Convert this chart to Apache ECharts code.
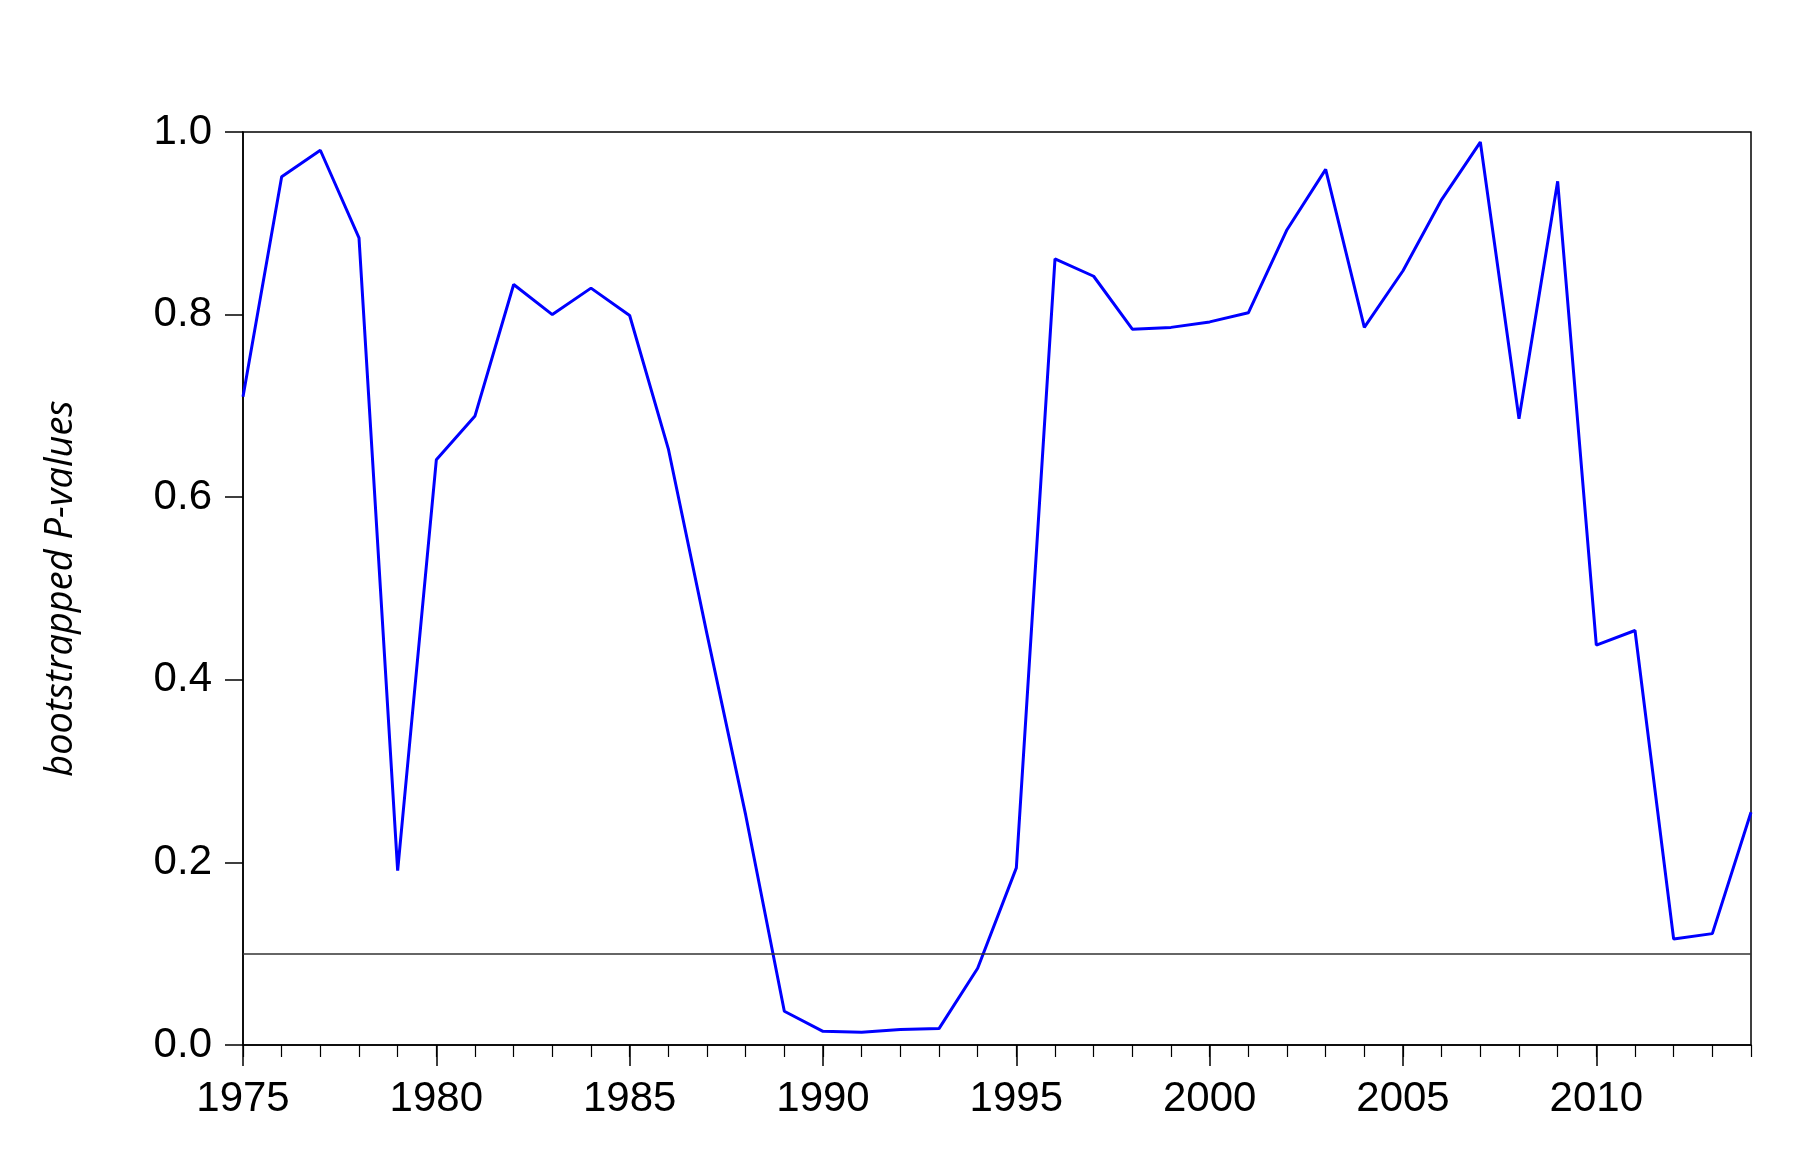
<!DOCTYPE html>
<html>
<head>
<meta charset="utf-8">
<script src="https://cdn.jsdelivr.net/npm/echarts@6/dist/echarts.min.js"></script>
<style>
  html, body { margin: 0; padding: 0; background: #fff; }
</style>
</head>
<body>
<div id="main" style="width:1817px; height:1158px"></div>
<script>
// years on the x axis
var years = [];
for (var y = 1975; y <= 2014; y++) years.push(String(y));

// bootstrapped p-values
var pValues = [
  0.710, 0.951, 0.980, 0.884, 0.191, 0.641, 0.689, 0.833, 0.800, 0.829,
  0.799, 0.653, 0.450, 0.252, 0.037, 0.015, 0.014, 0.017, 0.018, 0.084,
  0.194, 0.861, 0.842, 0.784, 0.786, 0.792, 0.802, 0.893, 0.959, 0.786,
  0.848, 0.926, 0.989, 0.686, 0.946, 0.438, 0.454, 0.116, 0.122, 0.255
];

// 10% significance line
var threshold = 0.1;

var chartDom = document.getElementById("main");
var myChart = echarts.init(chartDom);
var option;

var labelFont = "'Liberation Sans', Arial, sans-serif";

option = {
  animation: false,
  backgroundColor: "#fff",
  grid: {
    left: 243,
    right: 66,
    top: 132,
    bottom: 113,
    show: true,
    borderColor: "#000",
    borderWidth: 1.5
  },
  xAxis: [
    {
      type: "category",
      position: "bottom",
      data: years,
      boundaryGap: false,
      axisLine: { lineStyle: { color: "#000", width: 1.5 } },
      axisTick: {
        length: 21,
        lineStyle: { color: "#000", width: 1.5 },
        interval: function (index) { return index % 5 === 0; }
      },
      axisLabel: {
        interval: function (index) { return index % 5 === 0; },
        margin: 33,
        color: "#000",
        fontSize: 42,
        fontFamily: labelFont
      },
      splitLine: { show: false }
    },
    {
      // yearly minor ticks
      type: "category",
      position: "bottom",
      data: years,
      boundaryGap: false,
      axisLine: { show: false },
      axisTick: {
        length: 12,
        interval: 0,
        lineStyle: { color: "#000", width: 1.2 }
      },
      axisLabel: { show: false },
      splitLine: { show: false }
    }
  ],
  yAxis: {
    type: "value",
    min: 0,
    max: 1,
    interval: 0.2,
    name: "bootstrapped P-values",
    nameLocation: "middle",
    nameGap: 163,
    nameTextStyle: {
      fontFamily: "'Open Sans', 'Noto Sans', sans-serif",
      fontStyle: "italic",
      fontSize: 38,
      color: "#000"
    },
    axisLine: { show: true, lineStyle: { color: "#000", width: 1.5 } },
    axisTick: { show: true, length: 18, lineStyle: { color: "#000", width: 1.5 } },
    axisLabel: {
      margin: 31,
      color: "#000",
      fontSize: 42,
      fontFamily: labelFont,
      formatter: function (v) { return v.toFixed(1); }
    },
    splitLine: { show: false }
  },
  series: [
    {
      name: "p",
      type: "line",
      xAxisIndex: 0,
      data: pValues,
      symbol: "none",
      lineStyle: { color: "#0000ff", width: 3 },
      markLine: {
        silent: true,
        symbol: "none",
        label: { show: false },
        lineStyle: { color: "#333", width: 1.5, type: "solid" },
        data: [{ yAxis: threshold }]
      }
    }
  ]
};

option && myChart.setOption(option);
</script>
</body>
</html>
